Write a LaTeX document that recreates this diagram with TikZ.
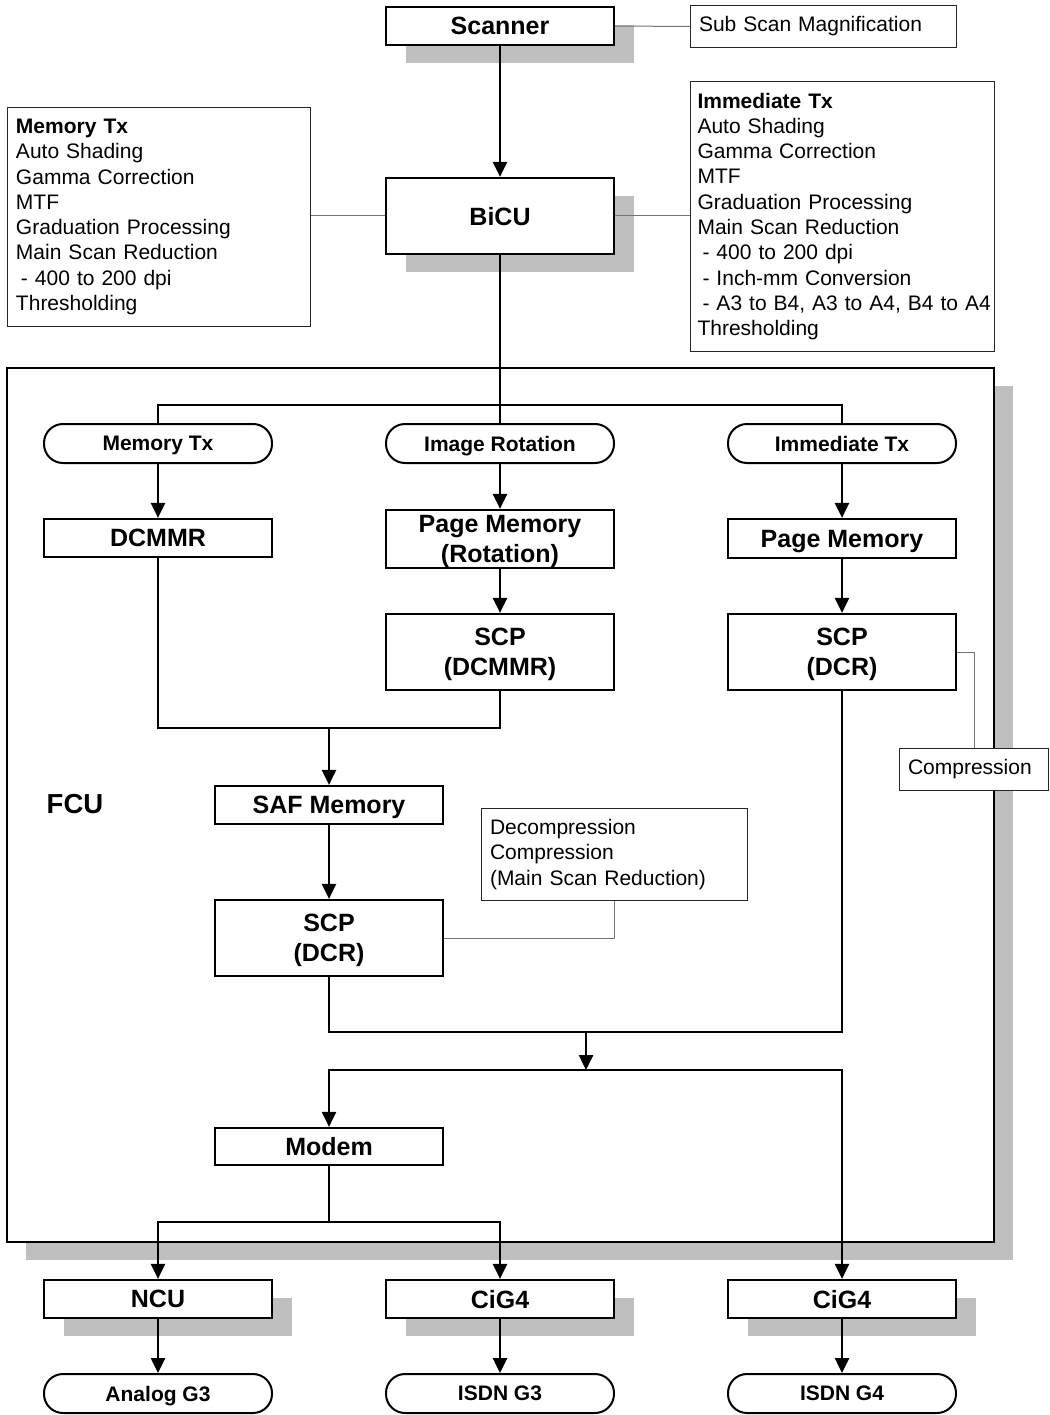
\documentclass[tikz,border=0pt]{standalone}
\usepackage{fontspec}
\setmainfont{Liberation Sans}
\usetikzlibrary{arrows.meta,shadows}

\begin{document}
\begin{tikzpicture}[x=1pt,y=-1pt]
% Styles
\tikzstyle{boite}=[draw,line width=2.2pt,fill=white,minimum width=228pt,inner sep=0pt,text depth=0pt,align=center,font=\fontsize{25}{30}\selectfont\bfseries]
\tikzstyle{ombree}=[drop shadow={shadow xshift=20pt,shadow yshift=-18pt,fill=black!25,opacity=1}]
\tikzstyle{pilule}=[draw,line width=2pt,fill=white,rounded corners=19pt,minimum width=228pt,minimum height=39pt,inner sep=0pt,text depth=0pt,font=\fontsize{21}{24}\selectfont\bfseries]
\tikzstyle{note}=[draw=black!85,line width=1pt,fill=white,anchor=north west,align=left,inner xsep=8.5pt,inner ysep=0pt,font=\fontsize{21}{25.3}\selectfont]
\tikzstyle{trait}=[line width=2.5pt]
\tikzstyle{fleche}=[trait,-{Triangle[length=15pt,width=14pt]}]
\tikzstyle{lien}=[line width=1pt,black!55]
% Dimensions
\def\ColG{158}
\def\ColS{329}
\def\ColM{500}
\def\ColD{842}
\useasboundingbox (0,0) rectangle (1049,1415);
% Cadre du FCU
\node[draw,line width=2.5pt,fill=white,minimum width=987pt,minimum height=874pt,drop shadow={shadow xshift=19pt,shadow yshift=-18pt,fill=black!25,opacity=1}] (fcu) at (500.5,805) {};
\node[font=\fontsize{27.5}{30}\selectfont\bfseries] (fcutitre) at (75,804) {FCU};
% Scanner et BiCU
\node[boite,ombree,minimum height=38pt] (scanner) at (\ColM,26) {Scanner};
\node[boite,ombree,minimum height=76pt] (bicu) at (\ColM,216) {BiCU};
\node[note,text width=249pt,minimum height=42pt] (sousbal) at (690,5) {Sub Scan Magnification};
\node[note,text width=286pt,minimum height=219pt] (notemem) at (7,107) {\textbf{Memory Tx}\\Auto Shading\\Gamma Correction\\MTF\\Graduation Processing\\Main Scan Reduction\\\hspace{5pt}- 400 to 200 dpi\\Thresholding};
\node[note,text width=290pt,inner xsep=7pt,minimum height=270pt] (noteimm) at (690,81) {\textbf{Immediate Tx}\\Auto Shading\\Gamma Correction\\MTF\\Graduation Processing\\Main Scan Reduction\\\hspace{5pt}- 400 to 200 dpi\\\hspace{5pt}- Inch-mm Conversion\\\mbox{\hspace{5pt}- A3 to B4, A3 to A4, B4 to A4}\\Thresholding};
% Modes
\node[pilule] (memtx) at (\ColG,443.5) {Memory Tx};
\node[pilule] (imgrot) at (\ColM,443.5) {Image Rotation};
\node[pilule] (immtx) at (\ColD,443.5) {Immediate Tx};
% Memoires et SCP
\node[boite,minimum height=38pt] (dcmmr) at (\ColG,538) {DCMMR};
\node[boite,minimum height=58pt] (pmrot) at (\ColM,539) {Page Memory\\(Rotation)};
\node[boite,minimum height=39pt] (pmem) at (\ColD,538.5) {Page Memory};
\node[boite,minimum height=76pt] (scpa) at (\ColM,652) {SCP\\(DCMMR)};
\node[boite,minimum height=76pt] (scpb) at (\ColD,652) {SCP\\(DCR)};
\node[boite,minimum height=38pt] (saf) at (\ColS,805) {SAF Memory};
\node[boite,minimum height=76pt] (scpc) at (\ColS,938) {SCP\\(DCR)};
\node[boite,minimum height=37pt] (modem) at (\ColS,1146.5) {Modem};
\node[note,text width=249pt,minimum height=92pt] (decomp) at (481,808) {Decompression\\Compression\\(Main Scan Reduction)};
\node[note,text width=132pt,minimum height=42pt] (comp) at (899,748) {Compression};
% Sorties
\node[boite,ombree,minimum height=38pt] (ncu) at (\ColG,1299) {NCU};
\node[boite,ombree,minimum height=38pt] (cigA) at (\ColM,1299) {CiG4};
\node[boite,ombree,minimum height=38pt] (cigB) at (\ColD,1299) {CiG4};
\node[pilule] (analog) at (\ColG,1393.5) {Analog G3};
\node[pilule] (isdnA) at (\ColM,1393.5) {ISDN G3};
\node[pilule] (isdnB) at (\ColD,1393.5) {ISDN G4};
% Points de jonction
\coordinate (brancheH) at (\ColM,405);
\coordinate (jonctionA) at (\ColS,728);
\coordinate (jonctionB) at (586,1032);
\coordinate (jonctionC) at (586,1070);
\coordinate (jonctionD) at (\ColS,1222);
% Liaisons
\draw[fleche] (scanner) -- (bicu);
\draw[lien] (scanner.east) -- (sousbal.west);
\draw[lien] (bicu.west) -- (bicu.west -| notemem.east);
\draw[lien] (bicu.east) -- (bicu.east -| noteimm.west);
\draw[trait] (bicu) -- (imgrot);
\draw[trait] (memtx.north) |- (brancheH) -| (immtx.north);
\draw[fleche] (memtx) -- (dcmmr);
\draw[fleche] (imgrot) -- (pmrot);
\draw[fleche] (immtx) -- (pmem);
\draw[fleche] (pmrot) -- (scpa);
\draw[fleche] (pmem) -- (scpb);
\draw[trait] (dcmmr.south) |- (jonctionA) -| (scpa.south);
\draw[fleche] (jonctionA) -- (saf);
\draw[fleche] (saf) -- (scpc);
\draw[lien] (scpc.east) -| (decomp.south);
\draw[lien] (scpb.east) -| (comp.north);
\draw[trait] (scpc.south) |- (jonctionB) -| (scpb.south);
\draw[fleche] (jonctionB) -- (jonctionC);
\draw[trait] (modem.north |- jonctionC) -- (cigB.north |- jonctionC);
\draw[fleche] (jonctionC) -| (modem.north);
\draw[fleche] (jonctionC) -| (cigB.north);
\draw[trait] (modem) -- (jonctionD);
\draw[fleche] (jonctionD) -| (ncu.north);
\draw[fleche] (jonctionD) -| (cigA.north);
\draw[fleche] (ncu) -- (analog);
\draw[fleche] (cigA) -- (isdnA);
\draw[fleche] (cigB) -- (isdnB);
\end{tikzpicture}
\end{document}
